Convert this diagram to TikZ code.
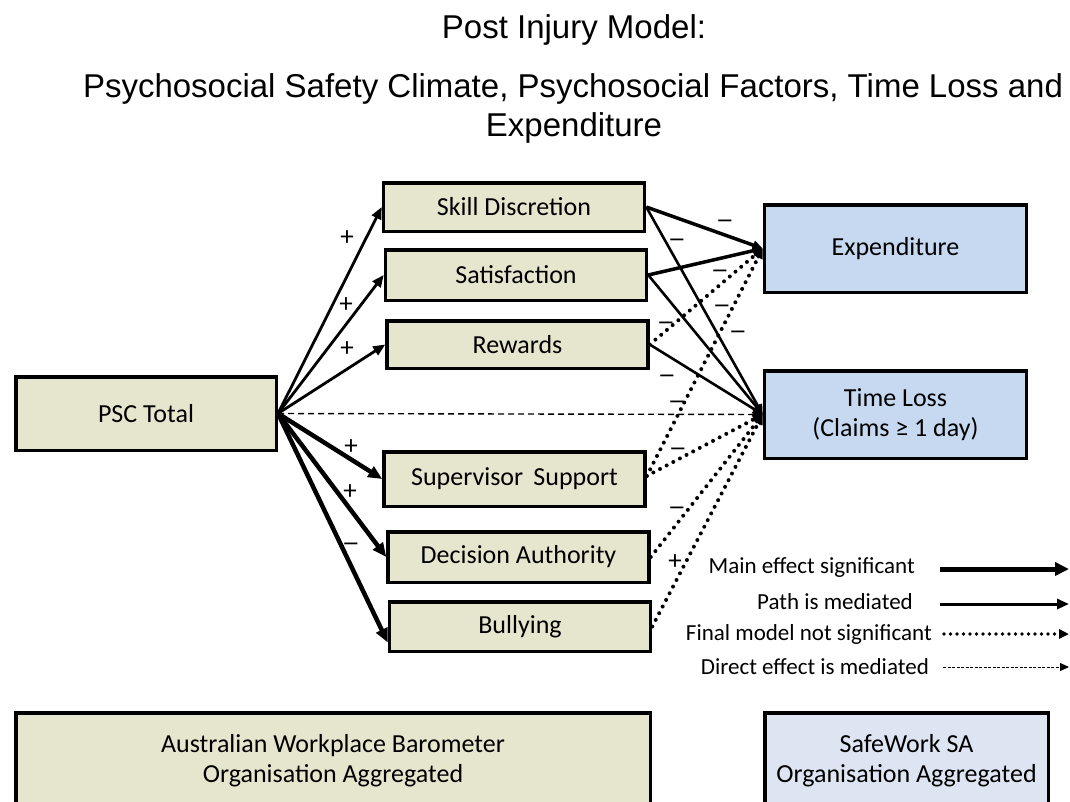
\documentclass[tikz,border=0pt]{standalone}
\usepackage{fontspec}
\setmainfont{Carlito}
\newfontfamily\titlefont{Liberation Sans}
\newfontfamily\signfont{DejaVu Sans}
\usetikzlibrary{arrows.meta,calc}
\definecolor{olivefill}{RGB}{230,230,207}
\definecolor{bluefill}{RGB}{198,217,241}
\definecolor{palebluefill}{RGB}{221,229,242}

\begin{document}
\begin{tikzpicture}[x=1pt,y=-1pt,
  box/.style={draw=black, line width=3.5pt, fill=olivefill, minimum width=261pt,
    inner sep=0pt, font=\fontsize{26}{30}\selectfont, align=center},
  outbox/.style={box, fill=bluefill, minimum width=262pt, minimum height=87.5pt},
  titletext/.style={font=\titlefont\fontsize{33}{40}\selectfont, inner sep=0pt, anchor=base},
  sign/.style={font=\fontsize{27}{30}\selectfont, inner sep=0pt},
  neg/.style={font=\signfont\fontsize{21}{24}\selectfont, inner sep=0pt, yshift=-6pt},
  legtext/.style={font=\fontsize{23}{28}\selectfont, inner sep=0pt, anchor=east},
  tip/.style={-{Triangle[length=12pt,width=10pt]}},
  smalltip/.style={-{Triangle[length=10pt,width=9pt]}},
  fanthin/.style={tip, line width=2.8pt},
  fanthick/.style={tip, line width=4.5pt, -{Triangle[length=14pt,width=12pt]}},
  strong/.style={smalltip, line width=3.5pt},
  mediated/.style={smalltip, line width=2.6pt},
  notsig/.style={smalltip, line width=4pt, line cap=round, dash pattern=on 0pt off 7.5pt},
  direct/.style={smalltip, line width=1.4pt, dash pattern=on 6pt off 4pt},
]
\useasboundingbox (0,0) rectangle (1070,801);
\clip (0,0) rectangle (1070,801);

% titles
\node[titletext] (t1) at (574,38) {Post Injury Model:};
\node[titletext] (t2) at (573,97) {Psychosocial Safety Climate, Psychosocial Factors, Time Loss and};
\node[titletext] (t3) at (574,136) {Expenditure};

% predictor
\node[box, minimum width=260.5pt, minimum height=73.5pt] (psc) at (146,413.5) {PSC Total};

% mediators
\node[box, minimum height=48.5pt] (sd)  at (514,207)   {Skill Discretion};
\node[box, minimum height=50.5pt] (sat) at (516,275)   {Satisfaction};
\node[box, minimum height=47.5pt] (rew) at (517.5,344.5) {Rewards};
\node[box, minimum height=54.5pt] (ss)  at (514.5,479) {Supervisor\, Support};
\node[box, minimum height=50.5pt] (da)  at (518.5,557) {Decision Authority};
\node[box, minimum height=49.5pt] (bul) at (520,626.5) {Bullying};

% outcomes
\node[outbox] (exp) at (895.5,248.5) {Expenditure};
\node[outbox] (tl)  at (895.5,414.5) {Time Loss\\(Claims ≥ 1 day)};

% data sources
\node[box, minimum width=634.5pt, minimum height=96pt] (awb) at (333,761)
  {Australian Workplace Barometer\\Organisation Aggregated};
\node[box, fill=palebluefill, minimum width=283.5pt, minimum height=96pt] (sw) at (906.5,761)
  {SafeWork SA\\Organisation Aggregated};

% PSC to mediators
\draw[fanthin]  (psc.east) -- (sd.west);
\draw[fanthin]  (psc.east) -- (sat.west);
\draw[fanthin]  (psc.east) -- (rew.west);
\draw[fanthick] (psc.east) -- (ss.west);
\draw[fanthick] (psc.east) -- (da.west);
\draw[fanthick] (psc.east) -- ([yshift=-16pt]bul.west);
\draw[direct]   (psc.east) -- (tl.west);

% mediators to outcomes
\draw[strong]   (sd.east)  -- (exp.west);
\draw[mediated] (sd.east)  -- (tl.west);
\draw[strong]   (sat.east) -- (exp.west);
\draw[mediated] (sat.east) -- (tl.west);
\draw[notsig]   (rew.east) -- (exp.west);
\draw[mediated] (rew.east) -- (tl.west);
\draw[notsig]   ([yshift=3pt]ss.east) -- (exp.west);
\draw[notsig]   ([yshift=3pt]ss.east) -- (tl.west);
\draw[notsig]   (da.east)  -- (tl.west);
\draw[notsig]   (bul.east) -- (tl.west);

% signs on the PSC paths
\node[sign] (p1) at (347,238) {+};
\node[sign] (p2) at (346,305) {+};
\node[sign] (p3) at (347,349) {+};
\node[sign] (p4) at (351,447) {+};
\node[sign] (p5) at (350,492) {+};
\node[neg]  (p6) at (351,541) {−};

% signs on the outcome paths
\node[neg]  (m1)  at (725,218) {−};
\node[neg]  (m2)  at (677,237) {−};
\node[neg]  (m3)  at (720,268) {−};
\node[neg]  (m4)  at (722,303) {−};
\node[neg]  (m5)  at (738,329) {−};
\node[neg]  (m6)  at (666,320) {−};
\node[neg]  (m7)  at (667,373) {−};
\node[neg]  (m8)  at (677,399) {−};
\node[neg]  (m9)  at (678,446) {−};
\node[neg]  (m10) at (677,505) {−};
\node[sign] (m11) at (675,562) {+};

% legend
\node[legtext] (lg1) at (915,568) {Main effect significant};
\node[legtext] (lg2) at (913,602) {Path is mediated};
\node[legtext] (lg3) at (932,634) {Final model not significant};
\node[legtext] (lg4) at (929,667) {Direct effect is mediated};
\coordinate (l1a) at (940,569);  \coordinate (l1b) at (1069,569);
\coordinate (l2a) at (940,604);  \coordinate (l2b) at (1069,604);
\coordinate (l3a) at (944,634);  \coordinate (l3b) at (1069,634);
\coordinate (l4a) at (943,667);  \coordinate (l4b) at (1069,667);
\draw[line width=5pt, -{Triangle[length=14pt,width=13pt]}] (l1a) -- (l1b);
\draw[line width=3pt, -{Triangle[length=12pt,width=10pt]}] (l2a) -- (l2b);
\draw[line width=3.6pt, line cap=round, dash pattern=on 0pt off 6.5pt, -{Triangle[length=10pt,width=9pt]}] (l3a) -- (l3b);
\draw[line width=1pt, dash pattern=on 3pt off 1.5pt, -{Triangle[length=9pt,width=8pt]}] (l4a) -- (l4b);
\end{tikzpicture}
\end{document}
